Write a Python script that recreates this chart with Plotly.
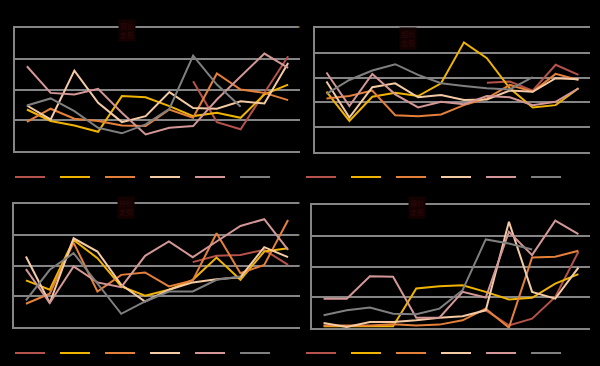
import plotly.graph_objects as go

months = ["1月", "2月", "3月", "4月", "5月", "6月", "7月", "8月", "9月", "10月", "11月", "12月"]
series_names = ["2018年", "2019年", "2020年", "2021年", "2022年", "2023年"]
colors = ["#b4524b", "#f0b400", "#e5803a", "#f4caa4", "#d29796", "#7f7f7f"]
N = None

p1_2018 = [N, N, N, N, N, N, N, 45.4, 18.8, 14.1, 37.8, 61.6]
p1_2019 = [27.0, 19.5, 16.6, 12.5, 35.7, 35.0, 29.2, 22.7, 24.9, 21.6, 36.8, 43.2]
p1_2020 = [19.0, 27.5, 21.0, 19.5, 16.6, 16.2, 27.0, 21.6, 50.4, 40.0, 37.8, 33.1]
p1_2021 = [29.6, 20.5, 52.3, 31.4, 18.8, 22.7, 38.3, 27.9, 27.5, 32.4, 30.9, 57.3]
p1_2022 = [55.1, 37.8, 36.8, 40.4, 24.9, 10.8, 15.1, 16.2, 33.5, 48.6, 63.4, 54.1]
p1_2023 = [29.6, 34.2, 25.9, 15.1, 11.5, 17.3, 27.5, 62.1, 43.2, 28.8, N, N]

p2_2018 = [N, N, N, N, N, N, N, 55.9, 56.8, 49.5, 70.3, 62.2]
p2_2019 = [48.6, 25.1, 44.6, 47.8, 45.1, 55.4, 88.4, 75.7, 51.4, 35.9, 37.8, 51.4]
p2_2020 = [43.2, 45.1, 49.5, 29.7, 28.9, 30.3, 37.8, 43.2, 54.1, 48.6, 63.0, 58.1]
p2_2021 = [56.8, 27.8, 52.2, 55.4, 44.1, 45.9, 41.9, 42.4, 49.5, 48.6, 59.5, 58.6]
p2_2022 = [64.1, 37.0, 63.0, 46.5, 35.9, 40.5, 38.6, 45.1, 44.1, 37.8, 40.5, 51.4]
p2_2023 = [46.8, 58.1, 65.7, 70.8, 62.2, 55.4, 53.2, 51.4, 50.5, 60.3, N, N]

p3_2018 = [N, N, N, N, N, N, N, 42.2, 46.3, 46.9, 50.2, 40.4]
p3_2019 = [30.3, 24.2, 56.6, 44.8, 26.4, 20.3, 24.2, 30.7, 45.2, 30.7, 49.1, 51.2]
p3_2020 = [15.1, 21.6, 54.9, 23.1, 33.9, 35.5, 26.4, 30.3, 61.0, 35.0, 40.4, 69.6]
p3_2021 = [45.8, 15.6, 57.7, 49.1, 27.5, 16.6, 24.2, 29.0, 31.1, 32.4, 51.9, 45.4]
p3_2022 = [37.6, 15.6, 39.4, 29.0, 25.9, 46.3, 55.6, 45.4, 55.6, 65.7, 70.1, 50.2]
p3_2023 = [17.3, 37.2, 48.0, 28.5, 8.6, 16.6, 23.1, 23.1, 30.7, 32.9, N, N]

p4_2018 = [N, N, N, N, N, N, N, 11.5, 1.7, 6.1, 20.2, 49.6]
p4_2019 = [1.1, 1.1, 1.1, 1.1, 25.7, 27.2, 27.8, 23.5, 18.5, 19.6, 28.9, 35.0]
p4_2020 = [1.7, 1.7, 1.7, 2.4, 1.7, 2.2, 5.0, 12.6, 0.2, 45.9, 46.3, 50.2]
p4_2021 = [3.3, 0.7, 3.9, 3.9, 5.0, 6.7, 7.6, 11.5, 69.1, 23.5, 19.1, 39.3]
p4_2022 = [19.1, 19.1, 33.7, 33.3, 6.7, 6.7, 23.5, 19.8, 62.6, 47.4, 69.8, 61.1]
p4_2023 = [8.3, 11.5, 13.3, 9.3, 8.9, 12.6, 24.6, 57.6, 55.0, 51.1, N, N]

panel_titles = ["铜价<br>走势", "铝价<br>走势", "锌价<br>走势", "镍价<br>走势"]
panels = [
    [p1_2018, p1_2019, p1_2020, p1_2021, p1_2022, p1_2023],
    [p2_2018, p2_2019, p2_2020, p2_2021, p2_2022, p2_2023],
    [p3_2018, p3_2019, p3_2020, p3_2021, p3_2022, p3_2023],
    [p4_2018, p4_2019, p4_2020, p4_2021, p4_2022, p4_2023],
]
y_max = [80, 100, 80, 80]
y_step = [20, 20, 20, 20]

W, H = 600, 366
# plot-area pixel boxes: (left, right, top, bottom)
boxes = [(15, 300, 28, 151), (315, 590, 28, 152), (14, 300, 204, 327), (312, 590, 205, 328)]
legend_pos = [(10, 177), (301, 177), (10, 353), (301, 353)]
title_pos = [(127, 31), (408, 38), (126, 207), (417, 207)]

fig = go.Figure()
layout = dict(
    width=W, height=H,
    margin=dict(l=0, r=0, t=0, b=0, autoexpand=False),
    paper_bgcolor="#000000", plot_bgcolor="#000000",
    showlegend=True,
    font=dict(family="Noto Sans CJK SC, sans-serif", color="#000000", size=10),
    annotations=[],
)

for i, data in enumerate(panels):
    k = "" if i == 0 else str(i + 1)
    leg = "legend" if i == 0 else f"legend{i + 1}"
    for name, vals, col in zip(series_names, data, colors):
        fig.add_trace(go.Scatter(
            x=months, y=vals, name=name, mode="lines",
            line=dict(color=col, width=2),
            connectgaps=False,
            xaxis="x" + k, yaxis="y" + k, legend=leg,
        ))
    l, r, t, b = boxes[i]
    layout["xaxis" + k] = dict(
        domain=[l / W, r / W], anchor="y" + k, type="category",
        range=[-0.5, 11.5], showgrid=False, zeroline=False,
        showline=True, mirror=True, linecolor="#858585", linewidth=1.5,
        ticks="", tickfont=dict(color="#000000", size=9),
    )
    layout["yaxis" + k] = dict(
        domain=[1 - b / H, 1 - t / H], anchor="x" + k,
        range=[0, y_max[i]], dtick=y_step[i], tick0=0,
        showgrid=True, gridcolor="#858585", gridwidth=1.5,
        zeroline=False, showline=True, linecolor="#858585", linewidth=1.5,
        ticks="", tickfont=dict(color="#000000", size=9),
    )
    lx, ly = legend_pos[i]
    layout[leg] = dict(
        orientation="h", x=lx / W, y=1 - ly / H, xanchor="left", yanchor="middle",
        bgcolor="rgba(0,0,0,0)", font=dict(color="#000000", size=8),
        entrywidth=0.01, entrywidthmode="pixels", tracegroupgap=0,
    )
    tx, ty = title_pos[i]
    layout["annotations"].append(dict(
        text=panel_titles[i], x=tx / W, y=1 - ty / H, xref="paper", yref="paper",
        xanchor="center", yanchor="middle", showarrow=False,
        font=dict(color="#2e0909", size=7), bgcolor="#140202",
    ))

fig.update_layout(**layout)
fig.write_html(
    "out.html",
    config={"displayModeBar": False},
    post_script="document.body.style.margin='0';document.body.style.background='#000';",
)
